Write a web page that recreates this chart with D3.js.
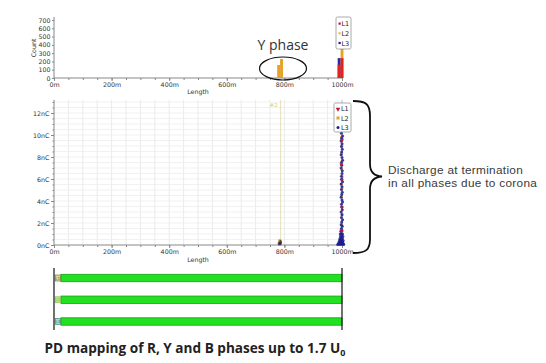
<!DOCTYPE html>
<html>
<head>
<meta charset="utf-8">
<script src="https://cdn.jsdelivr.net/npm/d3@7"></script>
<style>
  body { margin: 0; background: #fff; }
  svg { display: block; }
  .ax text { font-family: "DejaVu Sans", sans-serif; font-size: 6.3px; fill: #333; }
  .ax path, .ax line { stroke: #888; }
</style>
</head>
<body>
<svg id="svg1"></svg>
<script>
const width = 546;
const height = 363;
const svg = d3.select("#svg1")
    .attr("width", width)
    .attr("height", height);

// ---- data ----
const phases = ["L1", "L2", "L3"];
const phaseColors = {L1: "#c0182a", L2: "#e3a126", L3: "#1d1f8e"};
const lengthTicks = [0, 200, 400, 600, 800, 1000];
const countTicks = [0, 100, 200, 300, 400, 500, 600, 700];
const chargeTicks = [0, 2, 4, 6, 8, 10, 12];
const cableLength = 1000;

// histogram bins: [bin centre (m), count]
const histL2 = [[780, 157], [790, 229], [1000, 650]];
const histL3 = [[990, 240]];
const histL1 = [[990, 160], [1000, 240]];

// PD events: [position (m), charge (nC)]
const pdL3 = [
    [985, 0.05], [990, 0.08], [994, 0.04], [998, 0.1], [1002, 0.06], [1006, 0.05], [988, 0.15],
    [992, 0.2], [996, 0.18], [1000, 0.22], [1004, 0.15], [990, 0.3], [994, 0.35], [998, 0.32],
    [1002, 0.3], [992, 0.45], [996, 0.5], [1000, 0.48], [1004, 0.42], [993, 0.6], [997, 0.65],
    [1001, 0.62], [995, 0.8], [999, 0.85], [1003, 0.78], [994, 1.0], [998, 1.05], [1002, 1.0],
    [996, 1.25], [1000, 1.3], [998, 1.5], [1001, 1.7], [997, 1.85], [999, 2.1], [1002, 2.3],
    [998, 2.5], [1000, 2.75], [997, 3.0], [1001, 3.2], [999, 3.45], [998, 3.7], [1002, 3.9],
    [1000, 4.1], [997, 4.35], [999, 4.6], [1001, 4.8], [998, 5.05], [1000, 5.3], [997, 5.55],
    [1002, 5.75], [999, 6.0], [998, 6.25], [1000, 6.5], [1001, 6.75], [997, 7.0], [999, 7.25],
    [998, 7.5], [1002, 7.7], [1000, 7.95], [997, 8.2], [999, 8.45], [1001, 8.7], [998, 8.95],
    [1000, 9.2], [997, 9.45], [999, 9.7], [1002, 9.9], [998, 10.15], [1000, 10.4], [997, 10.65],
    [999, 10.9], [1001, 11.15], [998, 11.4], [783, 0.12], [786, 0.2]
];
const pdL2 = [
    [998, 4.4], [1000, 5.1], [998, 5.5], [1001, 6.2], [998, 6.9], [1000, 7.6], [998, 8.3],
    [1000, 9.0], [998, 9.8], [1001, 10.5], [998, 11.3], [1000, 2.8], [999, 1.9],
    [781, 0.15], [783, 0.28], [785, 0.2], [787, 0.32], [784, 0.4], [786, 0.1], [782, 0.08]
];
const pdL1 = [[1000, 3.4], [998, 7.3], [1000, 9.5], [1001, 11.6], [998, 1.3], [999, 5.9]];

const markerPos = 787;

// ---- scales ----
const x = d3.scaleLinear().domain([0, cableLength]).range([54, 342]);
const yCount = d3.scaleLinear().domain([0, 700]).range([78, 20]);
const yCharge = d3.scaleLinear().domain([0, 12]).range([245, 113]);
const chargeTop = 13.2;

const fmtM = d => d + "m";

// ---- top: histogram ----
const histG = svg.append("g");

histG.append("g").attr("class", "ax")
    .attr("transform", "translate(0,78)")
    .call(d3.axisBottom(x).tickValues(d3.range(0, 1001, 50)).tickSize(2).tickFormat(""))
    .call(g => g.select(".domain").remove());
histG.append("g").attr("class", "ax")
    .attr("transform", "translate(0,78)")
    .call(d3.axisBottom(x).tickValues(lengthTicks).tickSize(3).tickFormat(fmtM).tickPadding(1.5))
    .call(g => g.select(".domain").attr("d", "M54,0H343"));

histG.append("g").attr("class", "ax")
    .attr("transform", "translate(54,0)")
    .call(d3.axisLeft(yCount).tickValues(countTicks).tickSize(2).tickPadding(1.5))
    .call(g => g.select(".domain").attr("d", "M0,78V17"));

histG.append("text").attr("transform", "translate(36,48) rotate(-90)")
    .attr("text-anchor", "middle")
    .style("font", "6.3px 'DejaVu Sans'").style("fill", "#333").text("Count");
histG.append("text").attr("x", 198).attr("y", 94).attr("text-anchor", "middle")
    .style("font", "6.3px 'DejaVu Sans'").style("fill", "#333").text("Length");

const binW = x(10) - x(0);
[["L2", histL2], ["L3", histL3], ["L1", histL1]].forEach(([ph, bins]) => {
    histG.append("g").selectAll("rect").data(bins).enter().append("rect")
        .attr("x", d => x(d[0]) - binW / 2)
        .attr("width", binW)
        .attr("y", d => yCount(d[1]))
        .attr("height", d => yCount(0) - yCount(d[1]))
        .attr("fill", ph === "L1" ? "#e2221c" : ph === "L2" ? "#e6a126" : "#2a2aa4");
});

// top legend
const leg1 = histG.append("g").attr("transform", "translate(336,17)");
leg1.append("rect").attr("width", 15).attr("height", 32).attr("rx", 1.5)
    .attr("fill", "#fff").attr("stroke", "#888").attr("stroke-width", 0.7);
phases.forEach((p, i) => {
    leg1.append("rect").attr("x", 2.5).attr("y", 5.5 + i * 9.7).attr("width", 2.2).attr("height", 2.2)
        .attr("fill", p === "L2" ? "#e4c23a" : phaseColors[p]);
    leg1.append("text").attr("x", 5.5).attr("y", 9.3 + i * 9.7)
        .style("font", "6.5px 'DejaVu Sans'").style("fill", "#222").text(p);
});

// Y phase annotation
histG.append("text").attr("x", 283).attr("y", 50).attr("text-anchor", "middle")
    .style("font", "14px 'Open Sans'").style("fill", "#333").text("Y phase");
histG.append("ellipse").attr("cx", 283).attr("cy", 68.5).attr("rx", 23.5).attr("ry", 11.5)
    .attr("fill", "none").attr("stroke", "#111").attr("stroke-width", 1.2);

// ---- middle: PD map ----
const mid = svg.append("g");
const grid = mid.append("g");
grid.selectAll("line.v").data(d3.range(50, 1001, 50)).enter().append("line")
    .attr("x1", d => x(d)).attr("x2", d => x(d))
    .attr("y1", yCharge(chargeTop)).attr("y2", yCharge(0))
    .attr("stroke", d => d === 1000 ? "#999" : "#e2e2e2").attr("stroke-width", 0.7);
grid.selectAll("line.h").data(d3.range(0.5, 13.01, 0.5)).enter().append("line")
    .attr("x1", x(0)).attr("x2", x(1000))
    .attr("y1", d => yCharge(d)).attr("y2", d => yCharge(d))
    .attr("stroke", "#ebebeb").attr("stroke-width", 0.7);

mid.append("line").attr("x1", x(markerPos)).attr("x2", x(markerPos))
    .attr("y1", yCharge(chargeTop)).attr("y2", yCharge(0))
    .attr("stroke", "#ddd6a6").attr("stroke-width", 0.8);
mid.append("text").attr("x", x(markerPos) - 3).attr("y", 107).attr("text-anchor", "end")
    .style("font", "5.5px 'DejaVu Sans'").style("fill", "#d7cc78").text("#2");

mid.append("g").attr("class", "ax")
    .attr("transform", "translate(0,245)")
    .call(d3.axisBottom(x).tickValues(d3.range(0, 1001, 50)).tickSize(2).tickFormat(""))
    .call(g => g.select(".domain").remove());
mid.append("g").attr("class", "ax")
    .attr("transform", "translate(0,245)")
    .call(d3.axisBottom(x).tickValues(lengthTicks).tickSize(3).tickFormat(fmtM).tickPadding(1.5))
    .call(g => g.select(".domain").attr("d", "M54,0H343"));

mid.append("g").attr("class", "ax")
    .attr("transform", "translate(54,0)")
    .call(d3.axisLeft(yCharge).tickValues(d3.range(0, 13.01, 0.5)).tickSize(1.5).tickFormat(""))
    .call(g => g.select(".domain").remove());
mid.append("g").attr("class", "ax")
    .attr("transform", "translate(54,0)")
    .call(d3.axisLeft(yCharge).tickValues(chargeTicks).tickSize(3).tickPadding(1.5).tickFormat(d => d + "nC"))
    .call(g => g.select(".domain").attr("d", "M0,245V" + yCharge(chargeTop)));

mid.append("text").attr("x", 198).attr("y", 262).attr("text-anchor", "middle")
    .style("font", "6.3px 'DejaVu Sans'").style("fill", "#333").text("Length");

const dots = mid.append("g");
dots.selectAll("rect").data(pdL2).enter().append("rect")
    .attr("x", d => x(d[0]) - 1.3).attr("y", d => yCharge(d[1]) - 1.3)
    .attr("width", 2.6).attr("height", 2.6)
    .attr("fill", d => d[0] < 900 ? "#b08a40" : phaseColors.L2).attr("opacity", 0.9);
dots.selectAll("circle").data(pdL3).enter().append("circle")
    .attr("cx", d => x(d[0])).attr("cy", d => yCharge(d[1])).attr("r", 1.5)
    .attr("fill", phaseColors.L3).attr("fill-opacity", 0.85);
dots.selectAll("path").data(pdL1).enter().append("path")
    .attr("d", d3.symbol(d3.symbolTriangle, 7))
    .attr("transform", d => `translate(${x(d[0])},${yCharge(d[1])}) rotate(180)`)
    .attr("fill", phaseColors.L1);
// fine dark specks in the 780 m cluster
dots.append("g").selectAll("circle").data(pdL2.filter(d => d[0] < 900)).enter().append("circle")
    .attr("cx", d => x(d[0]) + 0.5).attr("cy", d => yCharge(d[1])).attr("r", 0.5)
    .attr("fill", "#4a3010");

// middle legend
const leg2 = mid.append("g").attr("transform", "translate(334,103)");
leg2.append("rect").attr("width", 17).attr("height", 29).attr("rx", 1.5)
    .attr("fill", "#fff").attr("stroke", "#888").attr("stroke-width", 0.7);
leg2.append("path").attr("d", d3.symbol(d3.symbolTriangle, 9))
    .attr("transform", "translate(4,6) rotate(180)").attr("fill", phaseColors.L1);
leg2.append("rect").attr("x", 2.5).attr("y", 13.5).attr("width", 3).attr("height", 3).attr("fill", phaseColors.L2);
leg2.append("circle").attr("cx", 4).attr("cy", 24.5).attr("r", 1.5).attr("fill", phaseColors.L3);
phases.forEach((p, i) => {
    leg2.append("text").attr("x", 7).attr("y", 8.3 + i * 9.2)
        .style("font", "6.5px 'DejaVu Sans'").style("fill", "#222").text(p);
});

// brace + note
const brace = d3.path();
brace.moveTo(353, 101);
brace.bezierCurveTo(366, 101, 370, 104, 370, 116);
brace.lineTo(370, 164);
brace.bezierCurveTo(370, 172, 374, 176, 382, 176.5);
brace.bezierCurveTo(374, 177, 370, 181, 370, 189);
brace.lineTo(370, 239);
brace.bezierCurveTo(370, 250, 366, 253, 353, 253);
svg.append("path").attr("d", brace.toString())
    .attr("fill", "none").attr("stroke", "#111").attr("stroke-width", 1.8);

const noteStyle = t => t.style("font", "11.8px 'Liberation Sans'").style("letter-spacing", "0.3px").style("fill", "#3a3a3a");
svg.append("text").attr("x", 388).attr("y", 173.5).call(noteStyle).text("Discharge at termination");
svg.append("text").attr("x", 388).attr("y", 186.7).call(noteStyle).text("in all phases due to corona");

// ---- bottom: phase mapping bars ----
const bot = svg.append("g");
const yPhase = d3.scalePoint().domain(phases).range([278, 321.5]);
const labelFill = {L1: "#d8d8a0", L2: "#b8e080", L3: "#a8d8c8"};
const labelStroke = {L1: "#6a6a28", L2: "#8cc050", L3: "#2a7a70"};

bot.selectAll("rect.bar").data(phases).enter().append("rect")
    .attr("x", x(24)).attr("width", x(cableLength) - x(24))
    .attr("y", d => yPhase(d) - 3.7).attr("height", 7.4)
    .attr("fill", "#22e022").attr("stroke", "#14a014").attr("stroke-width", 0.8);
bot.selectAll("rect.lbl").data(phases).enter().append("rect")
    .attr("x", x(4)).attr("width", x(22) - x(4))
    .attr("y", d => yPhase(d) - 3).attr("height", 6)
    .attr("fill", d => labelFill[d]).attr("stroke", d => labelStroke[d]).attr("stroke-width", 0.6);
bot.selectAll("text.lbl").data(phases).enter().append("text")
    .attr("x", x(13)).attr("y", d => yPhase(d) + 1.6).attr("text-anchor", "middle")
    .style("font", "4.2px 'DejaVu Sans'").style("fill", d => labelStroke[d]).text(d => d);
[0, cableLength].forEach(v => {
    bot.append("line").attr("x1", x(v)).attr("x2", x(v)).attr("y1", 268).attr("y2", 330)
        .attr("stroke", "#111").attr("stroke-width", 1.2);
});

// title
const title = svg.append("text").attr("x", 195).attr("y", 353).attr("text-anchor", "middle")
    .style("font", "bold 13.6px 'Open Sans'").style("fill", "#222");
title.append("tspan").text("PD mapping of R, Y and B phases up to 1.7 U");
title.append("tspan").attr("dy", 3).style("font-size", "9px").text("0");
</script>
</body>
</html>
